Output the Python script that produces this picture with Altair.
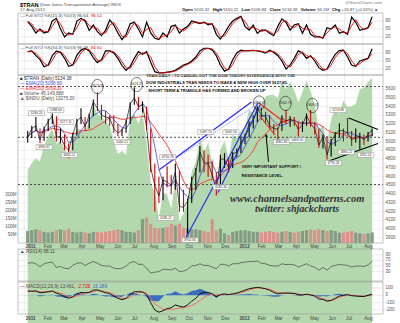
import altair as alt
import pandas as pd

# ---------------- data (weekly readings) ----------------
weeks = pd.date_range("2011-01-07", "2012-08-17", freq="W-FRI").strftime("%Y-%m-%d").tolist()

close = [5050, 5150, 5180, 5020, 5150, 5230, 5290, 5050, 5060, 4950, 4900, 5080, 5230, 5280, 5170, 5300,
         5450, 5380, 5300, 5280, 5270, 5150, 5100, 5130, 5220, 5430, 5500, 5400, 5420, 5160, 4700, 4500,
         4380, 4560, 4540, 4500, 4650, 4260, 4250, 4320, 4560, 4660, 4880, 4760, 4750, 4620, 4450, 4800,
         4800, 4700, 4860, 4880, 4980, 5060, 5200, 5240, 5380, 5300, 5290, 5180, 5150, 5140, 5270, 5230,
         5260, 5230, 5140, 5190, 5300, 5200, 5150, 4960, 5050, 4850, 5000, 5080, 5130, 5120, 5100, 5020,
         5050, 5060, 5020, 5080, 5134]
high = [5120, 5180, 5280, 5150, 5170, 5260, 5320, 5290, 5150, 5080, 4980, 5100, 5260, 5380, 5280, 5320,
        5480, 5560, 5420, 5350, 5300, 5300, 5200, 5150, 5250, 5450, 5620, 5510, 5460, 5400, 5150, 4750,
        4600, 4600, 4720, 4620, 4750, 4670, 4450, 4350, 4600, 4700, 4950, 4900, 4850, 4780, 4650, 4850,
        4870, 4820, 4880, 4920, 5060, 5090, 5230, 5300, 5400, 5390, 5340, 5300, 5200, 5160, 5300, 5362,
        5290, 5280, 5230, 5230, 5320, 5360, 5220, 5150, 5080, 5060, 5030, 5110, 5208, 5150, 5270, 5120,
        5150, 5100, 5080, 5110, 5150]
low = [4990, 5040, 5120, 4980, 5010, 5120, 5200, 5000, 4980, 4900, 4806, 4900, 5070, 5200, 5120, 5150,
       5290, 5350, 5250, 5200, 5180, 5100, 5060, 5060, 5100, 5200, 5420, 5360, 5330, 5130, 4650, 4200,
       4300, 4330, 4480, 4400, 4450, 4200, 4200, 3950, 4300, 4450, 4650, 4650, 4600, 4580, 4385, 4480,
       4700, 4650, 4700, 4820, 4870, 4970, 5050, 5150, 5220, 5250, 5200, 5150, 5080, 4980, 5120, 5200,
       5170, 5180, 5060, 5110, 5180, 5170, 5080, 4930, 4920, 4795, 4830, 4950, 5050, 5000, 5080, 4950,
       4990, 4911, 4960, 5000, 5060]
volume = [75, 80, 85, 80, 70, 65, 70, 80, 85, 80, 90, 70, 65, 70, 65, 60, 70, 70, 65, 70, 75, 80, 85, 80,
          70, 70, 65, 80, 150, 160, 120, 95, 90, 95, 100, 120, 110, 120, 95, 90, 85, 85, 80, 75, 70, 150,
          80, 90, 60, 50, 70, 75, 80, 80, 75, 70, 70, 65, 70, 75, 70, 65, 70, 75, 70, 65, 70, 75, 80, 85,
          80, 85, 80, 75, 80, 75, 65, 65, 70, 75, 65, 60, 55, 60, 66]
indu = [11670, 11790, 11870, 11820, 12090, 12270, 12390, 12130, 12170, 12040, 11860, 12220, 12380, 12380,
        12340, 12500, 12810, 12640, 12600, 12510, 12440, 12150, 11950, 12000, 11930, 12580, 12650, 12480,
        12680, 12140, 11440, 11270, 10820, 11280, 11240, 10990, 11510, 10770, 10910, 11100, 11640, 11810,
        12230, 11980, 12150, 11800, 11230, 12020, 12180, 11870, 12290, 12220, 12360, 12420, 12720, 12660,
        12860, 12800, 12950, 12980, 12980, 12920, 13230, 13080, 13210, 13060, 12850, 13030, 13230, 13040,
        12820, 12370, 12450, 12120, 12550, 12770, 12640, 12880, 12770, 12780, 12820, 13080, 13100, 13210,
        13275]
sto_fast = [78, 60, 35, 50, 35, 40, 80, 90, 50, 20, 35, 30, 80, 90, 80, 45, 65, 40, 25, 45, 84, 65, 35, 10,
            30, 70, 76, 50, 20, 76, 35, 15, 10, 35, 20, 60, 65, 35, 50, 60, 80, 75, 70, 76, 66, 70, 30, 12,
            34, 60, 80, 90, 98, 60, 46, 65, 34, 46, 46, 34, 25, 60, 88, 75, 46, 65, 70, 34, 65, 30, 20, 21,
            15, 55, 50, 65, 34, 40, 30, 95, 75, 45, 50, 55, 96.6]
sto_slow = [85, 88, 70, 55, 28, 35, 70, 88, 82, 60, 30, 35, 72, 91, 97, 88, 62, 44, 55, 88, 88, 80, 60, 33,
            15, 30, 60, 85, 75, 85, 45, 10, 5, 5, 8, 10, 15, 25, 35, 40, 50, 65, 88, 98, 98, 92, 70, 35,
            12, 20, 55, 80, 91, 88, 89, 90, 88, 85, 80, 91, 82, 70, 50, 20, 35, 60, 88, 80, 60, 70, 50, 25,
            15, 20, 50, 75, 89, 91, 65, 35, 30, 50, 55, 60, 96.4]
rsi = [60, 62, 58, 48, 58, 62, 64, 45, 48, 42, 40, 52, 60, 62, 52, 60, 66, 60, 52, 50, 50, 42, 40, 42, 50,
       62, 66, 56, 56, 42, 25, 28, 30, 38, 38, 36, 42, 30, 32, 38, 50, 52, 58, 52, 52, 46, 40, 56, 56, 50,
       58, 58, 62, 64, 66, 66, 68, 60, 58, 52, 50, 50, 58, 55, 56, 54, 46, 52, 58, 50, 45, 35, 45, 35, 48,
       52, 56, 54, 52, 46, 50, 50, 48, 54, 68]
macd = [60, 55, 60, 35, 40, 50, 60, 30, 10, -20, -40, -20, 20, 40, 35, 40, 70, 75, 55, 35, 25, -10, -40,
        -60, -40, 10, 50, 50, 45, 10, -100, -200, -230, -210, -180, -170, -130, -150, -160, -130, -80,
        -40, 20, 40, 40, 20, -20, 10, 20, 10, 20, 30, 50, 70, 90, 100, 110, 100, 90, 70, 40, 20, 30, 30,
        30, 25, 10, 5, 15, 5, -10, -50, -55, -80, -70, -40, -10, 0, 10, -5, -10, -15, -15, 0, 15]
signal = [55, 58, 58, 50, 45, 45, 52, 45, 30, 10, -15, -25, -10, 15, 30, 35, 50, 65, 62, 50, 38, 15, -15,
          -40, -45, -25, 15, 40, 45, 30, -30, -120, -150, -190, -200, -195, -185, -175, -170, -160, -140,
          -110, -70, -30, 0, 15, 15, 5, 10, 10, 15, 22, 38, 55, 72, 88, 100, 102, 95, 82, 60, 38, 32, 30,
          30, 28, 18, 10, 12, 8, -2, -30, -45, -65, -70, -55, -30, -10, 2, 2, -5, -10, -14, -7, 5]

df = pd.DataFrame({"date": weeks, "close": close, "high": high, "low": low, "volume": volume,
                   "indu": indu, "k": sto_fast, "k2": sto_slow, "rsi": rsi, "macd": macd, "signal": signal})
df["dir"] = ["up" if i == 0 or close[i] >= close[i - 1] else "down" for i in range(len(close))]

# analyst drawings (date, price)
trend_lines = pd.DataFrame([
    ("b1", "2011-08-19", 4676), ("b1", "2012-01-24", 5452),
    ("b2", "2011-10-04", 3900), ("b2", "2012-02-04", 5440),
    ("b3", "2011-11-28", 4420), ("b3", "2012-02-08", 5420),
    ("r1", "2012-02-06", 5440), ("r1", "2012-03-22", 5212),
    ("r2", "2012-02-06", 5303), ("r2", "2012-03-04", 5075),
    ("k1", "2012-07-08", 5269), ("k1", "2012-08-27", 5138),
    ("k2", "2012-06-04", 4778), ("k2", "2012-08-27", 4978),
], columns=["id", "date", "price"])
fan_line = pd.DataFrame({"date": ["2011-08-19", "2012-02-08"], "price": [4676, 5452]})
line_color = {"b": "#2020ff", "r": "#ff2020", "k": "#000000"}
dashed_levels = [5628, 5049, 4510]
circles = pd.DataFrame({"date": ["2011-05-06", "2011-07-12", "2012-02-06", "2012-03-22", "2012-05-07"],
                        "price": [5628, 5651, 5440, 5435, 5412]})
arrow = pd.DataFrame({"date": ["2012-02-22", "2012-02-18"], "price": [4770, 5075]})
notes = pd.DataFrame({
    "date": ["2011-07-28", "2011-07-28", "2011-07-28", "2012-01-07", "2012-01-07"],
    "price": [5754, 5665, 5581, 4710, 4607],
    "t": ["TRAN DAILY - TO CANCEL OUT THE DOW THEORY DIVERGENCE WITH THE",
          "DOW INDUSTRIALS TRAN NEEDS TO MAKE A NEW HIGH OVER 5627.85.",
          ". SHORT TERM A TRIANGLE HAS FORMED AND BROKEN UP",
          "VERY IMPORTANT SUPPORT /", "RESISTANCE LEVEL."]})
web = pd.DataFrame({"date": ["2012-04-11", "2012-04-11"], "price": [4345, 4231],
                    "t": ["www.channelsandpatterns.com", "twitter: shjackcharts"], "size": [10.5, 10]})
price_tags = pd.DataFrame({
    "date": ["2011-01-22", "2011-02-24", "2011-03-13", "2011-02-04", "2011-03-19", "2011-06-17",
             "2011-05-07", "2011-07-12", "2011-09-03", "2011-08-31", "2011-10-11", "2011-12-03",
             "2011-11-07", "2011-12-20", "2012-02-06", "2012-03-22", "2012-05-07", "2012-03-15",
             "2012-04-11", "2012-06-20", "2012-06-12", "2012-07-04", "2012-08-06"],
    "price": [5326, 5360, 5223, 4938, 4847, 4995, 5634, 5657, 4824, 4128, 3877, 4482, 5109, 5109,
              5440, 5440, 5417, 4995, 5018, 5360, 4756, 4881, 4847],
    "t": ["5280.20", "5288.60", "5177.11", "4980.67", "4806.51", "5060.21", "5627.85", "5618.25",
          "4750.78", "4585.11", "3950.66", "4585.30", "5087.70", "5062.56", "5394.37", "5362.73",
          "5368.02", "4981.83", "5068.50", "5213.86", "4795.28", "4880.22", "4911.01"],
    "boxed": [True] * 6 + [False, False] + [True] * 6 + [False, False, False] + [True] * 6})
months = pd.date_range("2011-01-01", "2012-08-01", freq="MS")
month_df = pd.DataFrame({"date": months.strftime("%Y-%m-%d"),
                         "lab": [d.strftime("%Y") if d.month == 1 else d.strftime("%b") for d in months],
                         "yr": [d.month == 1 for d in months]})

# ---------------- geometry (image pixels) ----------------
W, H = 365, 323
FONT = "Liberation Sans"
XSC = alt.Scale(domain=[alt.DateTime(year=2010, month=12, date=30), alt.DateTime(year=2012, month=8, date=27)])

AW = {" ": 278, "$": 556, "%": 889, "(": 333, ")": 333, "+": 584, ",": 278, "-": 333, ".": 278, "/": 278,
      ":": 278, "@": 1015, "A": 667, "B": 667, "C": 722, "D": 722, "E": 667, "F": 611, "G": 778, "H": 722,
      "I": 278, "K": 667, "L": 556, "M": 833, "N": 722, "O": 778, "P": 667, "R": 722, "S": 667, "T": 611,
      "U": 722, "V": 667, "X": 667, "a": 556, "c": 500, "e": 556, "g": 556, "h": 556, "i": 222, "l": 222,
      "m": 833, "n": 556, "o": 556, "p": 556, "r": 333, "s": 500, "t": 278, "u": 556, "v": 500, "w": 722,
      "y": 500, "\u2014": 1000, "\u25b2": 800, "\u25a0": 700}


def tw(s, size, bold=False):
    return sum(AW.get(c, 556) for c in s) / 1000 * size * (1.08 if bold else 1.0)


def X(f="date"):
    return alt.X(f"{f}:T", scale=XSC, axis=None)


def ysc(domain, rng):
    return alt.Scale(domain=domain, range=rng, nice=False, zero=False)


S_STO1 = ysc([0, 100], [42.3, 15.7])
S_STO2 = ysc([0, 100], [74.3, 47.7])
S_PX = ysc([3900, 5600], [238, 89])
S_VOL = ysc([0, 300], [243, 195])
S_INDU = ysc([10655, 13275], [228, 78])
S_RSI = ysc([0, 100], [280, 252])
S_MACD = ysc([-200, 100], [310, 288])

PANELS = [(13, 44), (44, 75), (75, 243), (249, 281), (282, 314)]

layers = []
one = pd.DataFrame({"a": [0]})


def Y(f, s):
    return alt.Y(f"{f}:Q", scale=s, axis=None)


def hgrid(vals, s, color="#dcdcdc"):
    d = pd.DataFrame({"v": vals})
    return alt.Chart(d).mark_rule(color=color, strokeWidth=0.6).encode(
        x=alt.value(0), x2=alt.value(W), y=Y("v", s))


def rlabels(vals, s, suffix=""):
    d = pd.DataFrame({"v": vals, "t": [f"{v}{suffix}" for v in vals]})
    return alt.Chart(d).mark_text(align="left", baseline="middle", fontSize=4.5, font=FONT,
                                  color="#555").encode(x=alt.value(W + 2.5), y=Y("v", s), text="t:N")


def txt(text, x, y, size=4.3, color="#333", weight="normal", align="left", font=FONT, style="normal"):
    return alt.Chart(pd.DataFrame({"t": [text]})).mark_text(
        align=align, baseline="middle", fontSize=size, color=color, fontWeight=weight, font=font,
        fontStyle=style).encode(x=alt.value(x), y=alt.value(y), text="t:N")


def run(items, x0, y, size, inner=1.2, outer=3.2):
    """items: list of (text, bold, color, is_pair_end)"""
    out, x = [], x0
    for text, bold, color, end in items:
        out.append(txt(text, x, y, size, color, "bold" if bold else "normal"))
        x += tw(text, size, bold) + (outer if end else inner)
    return out


# vertical month grid in every panel
for top, bot in PANELS:
    layers.append(alt.Chart(month_df).mark_rule(color="#dcdcdc", strokeWidth=0.6).encode(
        x=X(), y=alt.value(top), y2=alt.value(bot)))

# horizontal grids
layers += [hgrid([20, 50, 80], S_STO1), hgrid([20, 50, 80], S_STO2),
           hgrid(list(range(3900, 5700, 100)), S_PX, "#e4e4e4"),
           hgrid([30, 50, 70, 90], S_RSI), hgrid([-200, -100, 0, 100], S_MACD)]

base = alt.Chart(df)

# --- STO panels
for fld, s in (("k", S_STO1), ("k2", S_STO2)):
    layers.append(base.mark_line(color="#000", strokeWidth=1.2).encode(x=X(), y=Y(fld, s)))
    layers.append(base.transform_window(d=f"mean({fld})", frame=[-1, 0]).mark_line(
        color="#e00000", strokeWidth=0.9).encode(x=X(), y=Y("d", s)))

# --- main panel
layers.append(base.mark_area(color="#b4d8ae").encode(x=X(), y=Y("indu", S_INDU), y2=alt.value(243)))
layers.append(base.transform_filter("datum.dir == 'up'").mark_bar(width=3.2, color="#849c84").encode(
    x=X(), y=alt.Y("volume:Q", scale=S_VOL, axis=None), y2=alt.value(243)))
layers.append(base.transform_filter("datum.dir == 'down'").mark_bar(width=3.2, color="#d8928a").encode(
    x=X(), y=alt.Y("volume:Q", scale=S_VOL, axis=None), y2=alt.value(243)))
layers.append(alt.Chart(pd.DataFrame({"price": dashed_levels})).mark_rule(
    color="#222", strokeDash=[2, 2], strokeWidth=0.8).encode(x=alt.value(0), x2=alt.value(W), y=Y("price", S_PX)))
layers.append(base.transform_window(m="mean(close)", frame=[-9, 0]).mark_line(
    color="#ff3030", strokeWidth=0.9).encode(x=X(), y=Y("m", S_PX)))
layers.append(base.transform_window(m="mean(close)", frame=[-3, 0]).mark_line(
    color="#4848d8", strokeWidth=0.8).encode(x=X(), y=Y("m", S_PX)))
layers.append(base.transform_filter("datum.dir == 'up'").mark_rule(color="#000", strokeWidth=1.1).encode(
    x=X(), y=Y("low", S_PX), y2="high:Q"))
layers.append(base.transform_filter("datum.dir == 'down'").mark_rule(color="#d00000", strokeWidth=1.1).encode(
    x=X(), y=Y("low", S_PX), y2="high:Q"))
layers.append(base.mark_line(color="#111", strokeWidth=0.7).encode(x=X(), y=Y("close", S_PX)))
for key, col in line_color.items():
    layers.append(alt.Chart(trend_lines[trend_lines.id.str.startswith(key)]).mark_line(
        color=col, strokeWidth=1.1).encode(x=X(), y=Y("price", S_PX), detail="id:N"))
layers.append(alt.Chart(fan_line).mark_line(color="#6a6aff", strokeWidth=0.7, strokeDash=[1.5, 1]).encode(
    x=X(), y=Y("price", S_PX)))
layers.append(alt.Chart(circles).mark_point(
    shape="M -1 0 A 1 1.25 0 1 1 1 0 A 1 1.25 0 1 1 -1 0 Z", size=130, color="#000", strokeWidth=0.8,
    filled=False).encode(x=X(), y=Y("price", S_PX)))
layers.append(alt.Chart(arrow).mark_line(color="#000", strokeWidth=1).encode(x=X(), y=Y("price", S_PX)))
layers.append(alt.Chart(arrow.iloc[[1]]).mark_point(shape="triangle-up", size=14, color="#000",
                                                    filled=True).encode(x=X(), y=Y("price", S_PX)))
# price tags
layers.append(alt.Chart(price_tags[price_tags.boxed]).mark_point(
    shape="M -1 -0.3 L 1 -0.3 L 1 0.3 L -1 0.3 Z", size=260, fill="white", fillOpacity=1,
    stroke="#8c8c8c", strokeWidth=0.5, filled=True).encode(x=X(), y=Y("price", S_PX)))
layers.append(alt.Chart(price_tags).mark_text(align="center", baseline="middle", fontSize=3.3, font=FONT,
                                              color="#333").encode(x=X(), y=Y("price", S_PX), text="t:N"))
layers.append(alt.Chart(notes).mark_text(align="left", baseline="middle", fontSize=4.1, fontWeight="bold",
                                         font=FONT, color="#111").encode(x=X(), y=Y("price", S_PX), text="t:N"))
layers.append(alt.Chart(web).mark_text(align="center", baseline="middle", fontStyle="italic", fontWeight="bold",
                                       font="Liberation Serif", color="#333").encode(
    x=X(), y=Y("price", S_PX), text="t:N", size=alt.Size("size:Q", scale=None)))

# --- RSI
layers.append(base.mark_line(color="#444", strokeWidth=0.7).encode(x=X(), y=Y("rsi", S_RSI)))

# --- MACD
layers.append(base.transform_calculate(h="datum.macd - datum.signal").mark_area(color="#3b6cc0").encode(
    x=X(), y=Y("h", S_MACD), y2=alt.datum(0)))
layers.append(base.mark_line(color="#ff6060", strokeWidth=0.9).encode(x=X(), y=Y("signal", S_MACD)))
layers.append(base.mark_line(color="#000", strokeWidth=0.9).encode(x=X(), y=Y("macd", S_MACD)))

# --- panel frames
for top, bot in PANELS:
    layers.append(alt.Chart(one).mark_rect(fill=None, stroke="#9a9a9a", strokeWidth=0.6).encode(
        x=alt.value(0), x2=alt.value(W), y=alt.value(top), y2=alt.value(bot)))

# --- axis labels
layers += [rlabels([20, 50, 80], S_STO1), rlabels([20, 50, 80], S_STO2),
           rlabels(list(range(3900, 5700, 100)), S_PX), rlabels([30, 50, 70, 90], S_RSI),
           rlabels([-200, -100, 0, 100], S_MACD)]
vd = pd.DataFrame({"v": [50, 100, 150, 200, 250, 300]})
vd["t"] = vd.v.astype(str) + "M"
layers.append(alt.Chart(vd).mark_text(align="right", baseline="middle", fontSize=4.5, font=FONT,
                                      color="#555").encode(x=alt.value(-1.5), y=Y("v", S_VOL), text="t:N"))
for ypos in (246.5, 318.5):
    for yr, wt in ((True, "bold"), (False, "normal")):
        layers.append(alt.Chart(month_df[month_df.yr == yr]).mark_text(
            align="left", baseline="middle", dx=1.5, fontSize=4.6, font=FONT, fontWeight=wt,
            color="#444").encode(x=X(), y=alt.value(ypos), text="lab:N"))

# --- header & legends
G = "#444"
layers += [
    txt("$TRAN", 2, 4.6, 5.6, "#000", "bold"),
    txt("(Dow Jones Transportation Average) INDX", 22, 4.8, 4.3, G),
    txt("17-Aug-2012", 2, 10.2, 4.3, G),
    txt("@StockCharts.com", 364, 3.4, 4.3, "#777", align="right"),
]
layers += run([("Open", True, "#000", False), ("5105.32", False, G, True),
               ("High", True, "#000", False), ("5150.22", False, G, True),
               ("Low", True, "#000", False), ("5105.88", False, G, True),
               ("Close", True, "#000", False), ("5134.38", False, G, True),
               ("Volume", True, "#000", False), ("66.1M", False, G, True),
               ("Chg", True, "#000", False), ("+26.87 (+0.53%) \u25b2", False, G, True)], 164, 10.2, 4.2)
layers += run([("\u2014 Full STO %K(15,3) %D(3) 96.64,", False, G, False), ("95.12", False, "#e00000", True)],
              2, 16.3, 4.4)
layers += run([("\u2014 Full STO %K(34,3) %D(3) 96.38,", False, G, False), ("84.60", False, "#e00000", True)],
              2, 47.6, 4.4)
layers += [
    txt("\u25a0 $TRAN (Daily) 5134.38", 2, 79, 4.6, "#333"),
    txt("\u2014 EMA(20) 5088.69", 2, 84, 4.6, "#4848d8"),
    txt("\u2014 EMA(50) 5069.31", 2, 89, 4.6, "#ff3030"),
    txt("\u25a0 Volume 45,149,888", 2, 94, 4.6, "#555"),
    txt("\u25b2 $INDU (Daily) 13275.20", 2, 99, 4.6, "#555"),
    txt("\u25b2 RSI(14) 68.11", 2, 252.3, 4.7, G),
]
layers += run([("\u2014 MACD(12,26,9) 13.461,", False, G, False), ("-2.728,", False, "#e00000", False),
               ("16.189", False, "#3b6cc0", True)], 2, 286.5, 4.7)

chart = alt.layer(*layers).resolve_scale(y="independent").properties(
    width=W, height=H, background="white",
    autosize=alt.AutoSizeParams(type="none"),
    padding={"left": 18, "top": 0, "right": 17, "bottom": 0},
).configure_view(stroke=None)

chart.save("out.html", embed_options={"renderer": "svg", "actions": False})
